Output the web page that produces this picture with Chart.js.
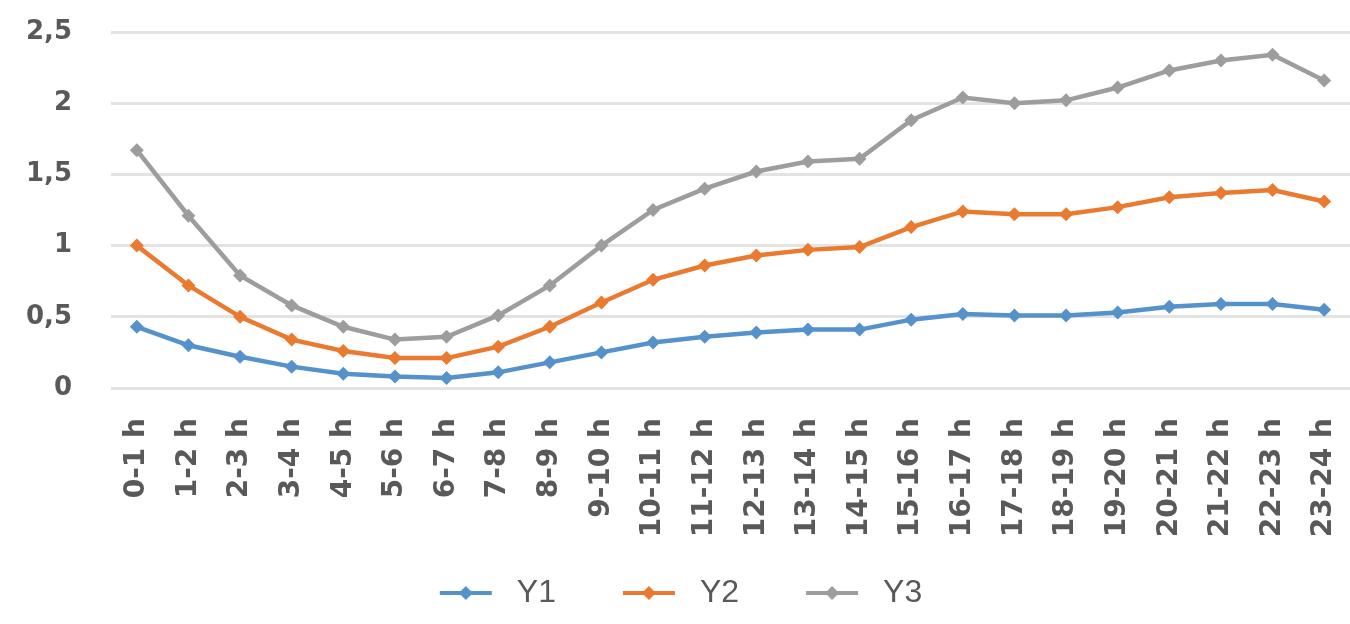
<!DOCTYPE html>
<html>
<head>
<meta charset="utf-8">
<script src="https://cdn.jsdelivr.net/npm/chart.js@4/dist/chart.umd.min.js"></script>
<style>
  html, body { margin: 0; padding: 0; background: #ffffff; }
  #wrap { width: 1350px; height: 624px; position: relative; }
</style>
</head>
<body>
<div id="wrap"><canvas id="chart" width="1350" height="624"></canvas></div>
<script>
// Hourly intervals
const hours = ["0-1 h","1-2 h","2-3 h","3-4 h","4-5 h","5-6 h","6-7 h","7-8 h","8-9 h","9-10 h",
  "10-11 h","11-12 h","12-13 h","13-14 h","14-15 h","15-16 h","16-17 h","17-18 h","18-19 h",
  "19-20 h","20-21 h","21-22 h","22-23 h","23-24 h"];

const seriesNames = ["Y1", "Y2", "Y3"];

const y1 = [0.43,0.30,0.22,0.15,0.10,0.08,0.07,0.11,0.18,0.25,0.32,0.36,0.39,0.41,0.41,0.48,0.52,0.51,0.51,0.53,0.57,0.59,0.59,0.55];
const y2 = [1.00,0.72,0.50,0.34,0.26,0.21,0.21,0.29,0.43,0.60,0.76,0.86,0.93,0.97,0.99,1.13,1.24,1.22,1.22,1.27,1.34,1.37,1.39,1.31];
const y3 = [1.67,1.21,0.79,0.58,0.43,0.34,0.36,0.51,0.72,1.00,1.25,1.40,1.52,1.59,1.61,1.88,2.04,2.00,2.02,2.11,2.23,2.30,2.34,2.16];

const yTicks = [0, 0.5, 1, 1.5, 2, 2.5];

const colors = ["#5592cc", "#e97a30", "#9d9d9d"];
const LEGEND_BOX = 73;

// Legend swatch: a short line with a diamond marker in the middle
function legendSwatch(color) {
  const c = document.createElement('canvas');
  c.width = LEGEND_BOX; c.height = 16;
  const g = c.getContext('2d');
  g.strokeStyle = color; g.lineWidth = 4;
  g.beginPath(); g.moveTo(12, 8); g.lineTo(64, 8); g.stroke();
  g.fillStyle = color;
  g.beginPath(); g.moveTo(38, 1); g.lineTo(45, 8); g.lineTo(38, 15); g.lineTo(31, 8); g.closePath(); g.fill();
  return c;
}

// The rotated hour labels run below the x-axis box into the legend band;
// let the axis label clip reach the bottom of the canvas.
const fullLabelArea = {
  id: 'fullLabelArea',
  afterLayout(chart) {
    chart.scales.x.bottom = chart.height;
  }
};

const seriesData = [y1, y2, y3];
const datasets = seriesData.map((d, i) => ({
  label: seriesNames[i],
  data: d,
  borderColor: colors[i],
  backgroundColor: colors[i],
  borderWidth: 4.5,
  pointStyle: 'rectRot',
  pointRadius: 7,
  pointBorderWidth: 0,
  tension: 0,
  fill: false
}));

new Chart(document.getElementById('chart'), {
  type: 'line',
  data: { labels: hours, datasets },
  plugins: [fullLabelArea],
  options: {
    responsive: false,
    animation: false,
    layout: { autoPadding: false, padding: { top: 32, right: 0, bottom: 5, left: 0 } },
    plugins: {
      tooltip: { enabled: false },
      legend: {
        position: 'bottom',
        labels: {
          usePointStyle: true,
          pointStyleWidth: LEGEND_BOX,
          boxHeight: 32,
          padding: 55,
          color: '#595959',
          font: { family: "'Liberation Sans', Arial, sans-serif", size: 32 },
          generateLabels(chart) {
            return chart.data.datasets.map((ds, i) => ({
              text: ds.label,
              pointStyle: legendSwatch(ds.borderColor),
              fillStyle: ds.borderColor,
              strokeStyle: ds.borderColor,
              lineWidth: 0,
              fontColor: '#595959',
              hidden: false,
              datasetIndex: i
            }));
          }
        }
      }
    },
    scales: {
      x: {
        offset: true,
        grid: { display: false, drawTicks: false },
        border: { display: false },
        afterFit(axis) {
          axis.height = 134;
          axis.paddingLeft = 0;
          axis.paddingRight = 0;
        },
        ticks: {
          autoSkip: false,
          minRotation: 90,
          maxRotation: 90,
          padding: 30,
          color: '#595959',
          font: { family: "'DejaVu Sans', sans-serif", size: 28, weight: 'bold' }
        }
      },
      y: {
        min: 0,
        max: 2.5,
        afterFit(axis) {
          axis.width = 111;
          axis.paddingTop = 0;
          axis.paddingBottom = 0;
        },
        afterBuildTicks(axis) { axis.ticks = yTicks.map(v => ({ value: v })); },
        grid: { color: '#e3e3e3', lineWidth: 3, drawTicks: false },
        border: { display: false },
        ticks: {
          padding: 39,
          color: '#595959',
          font: { family: "'DejaVu Sans', sans-serif", size: 26, weight: 'bold' },
          callback: v => String(v).replace('.', ',')
        }
      }
    }
  }
});
</script>
</body>
</html>
